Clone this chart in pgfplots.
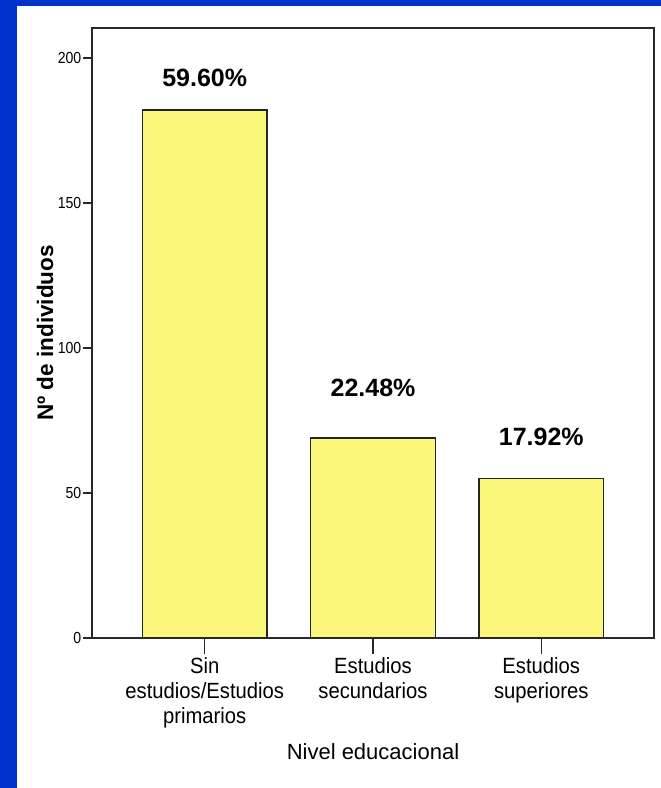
\documentclass[border=0pt]{standalone}
\usepackage{pgfplots}
\pgfplotsset{compat=1.18}
\usepackage{fontspec}
\setmainfont{Liberation Sans}
\newfontfamily\narrow[FakeStretch=0.88]{Liberation Sans}
\newfontfamily\xnarrow[FakeStretch=0.92]{Liberation Sans}
\definecolor{frameblue}{RGB}{0,51,204}
\definecolor{baryellow}{RGB}{250,247,122}
\definecolor{axisgray}{RGB}{40,40,40}
\pgfplotsset{
  common/.style={
    at={(92pt,150pt)}, anchor=south west,
    scale only axis, width=562pt, height=610pt,
    xmin=-0.67, xmax=2.67, ymin=0, ymax=210.3,
    tick align=outside,
    tick style={line width=1.4pt, color=axisgray},
    axis line style={line width=1.8pt, color=axisgray},
    /pgf/number format/assume math mode=true,
  }
}
\begin{document}
\begin{tikzpicture}
\fill[frameblue] (0pt,0pt) rectangle (661pt,788pt);
\fill[white] (17pt,0pt) rectangle (661pt,782pt);
\useasboundingbox (0pt,0pt) rectangle (661pt,788pt);
\begin{axis}[
  common,
  ytick={0,50,100,150,200},
  ytick pos=left,
  xtick=\empty,
  major tick length=9pt,
  yticklabel style={font=\narrow\fontsize{16}{16}\selectfont, inner sep=1.5pt},
  ylabel={\bfseries Nº de individuos},
  ylabel style={font=\fontsize{22.5}{22.5}\selectfont, at={(axis description cs:-0.0836,0.5)}, anchor=center},
  xlabel={Nivel educacional},
  xlabel style={font=\fontsize{22}{22}\selectfont, at={(axis description cs:0.5,-0.187)}, anchor=center},
  ybar, bar width=0.74,
]
\addplot[fill=baryellow, draw=black!85, line width=1.4pt] coordinates {(0,182) (1,69) (2,55)};
\node[font=\bfseries\fontsize{25}{25}\selectfont] at (axis cs:0,193) {59.60\%};
\node[font=\bfseries\fontsize{25}{25}\selectfont] at (axis cs:1,86.2) {22.48\%};
\node[font=\bfseries\fontsize{25}{25}\selectfont] at (axis cs:2,69.3) {17.92\%};
\end{axis}
\begin{axis}[
  common,
  ytick=\empty,
  xtick={0,1,2},
  xtick pos=bottom,
  major tick length=16pt,
  xticklabels={Sin\\estudios/Estudios\\primarios, Estudios\\secundarios, Estudios\\superiores},
  xticklabel style={font=\xnarrow\fontsize{22}{25}\selectfont, align=center, inner sep=3pt},
]
\end{axis}
\end{tikzpicture}
\end{document}
